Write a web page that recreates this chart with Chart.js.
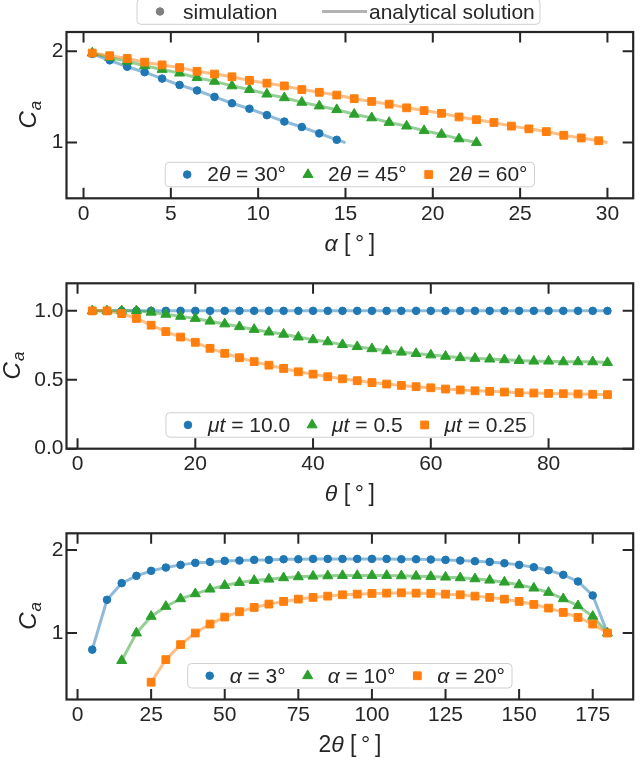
<!DOCTYPE html>
<html>
<head>
<meta charset="utf-8">
<script src="https://cdn.jsdelivr.net/npm/chart.js@4.4.1/dist/chart.umd.min.js"></script>
<style>
  body { margin: 0; background: #fff; }
  #wrap { position: relative; width: 640px; height: 757px; overflow: hidden; }
  canvas { position: absolute; left: 0; }
</style>
</head>
<body>
<div id="wrap">
  <canvas id="c1" width="640" height="260" style="top:0px"></canvas>
  <canvas id="c2" width="640" height="250" style="top:260px"></canvas>
  <canvas id="c3" width="640" height="247" style="top:510px"></canvas>
</div>
<script>
// ---- panel 1 : C_a vs alpha ----
const alpha30 = [0.5,1.5,2.5,3.5,4.5,5.5,6.5,7.5,8.5,9.5,10.5,11.5,12.5,13.5,14.5];
const ca30 = [1.97,1.90,1.83,1.77,1.70,1.63,1.57,1.50,1.43,1.37,1.30,1.23,1.17,1.10,1.03];
const alpha45 = [0.5,1.5,2.5,3.5,4.5,5.5,6.5,7.5,8.5,9.5,10.5,11.5,12.5,13.5,14.5,15.5,16.5,17.5,18.5,19.5,20.5,21.5,22.5];
const ca45 = [1.98,1.93,1.89,1.84,1.80,1.76,1.71,1.67,1.62,1.58,1.53,1.49,1.44,1.40,1.36,1.31,1.27,1.22,1.18,1.13,1.09,1.04,1.00];
const alpha60 = [0.5,1.5,2.5,3.5,4.5,5.5,6.5,7.5,8.5,9.5,10.5,11.5,12.5,13.5,14.5,15.5,16.5,17.5,18.5,19.5,20.5,21.5,22.5,23.5,24.5,25.5,26.5,27.5,28.5,29.5];
const ca60 = [1.98,1.95,1.92,1.88,1.85,1.82,1.78,1.75,1.72,1.68,1.65,1.62,1.58,1.55,1.52,1.48,1.45,1.42,1.38,1.35,1.32,1.28,1.25,1.22,1.18,1.15,1.12,1.08,1.05,1.02];
// analytical line end points (alpha = theta, C_a = 1)
const lineEnd30 = [15, 1.0];
const lineEnd45 = [22.5, 1.0];
const lineEnd60 = [30, 1.0];
const xTicks1 = [0, 5, 10, 15, 20, 25, 30];
const yTicks1 = [1, 2];

// ---- panel 2 : C_a vs theta ----
const theta = [2.5,5,7.5,10,12.5,15,17.5,20,22.5,25,27.5,30,32.5,35,37.5,40,42.5,45,47.5,50,52.5,55,57.5,60,62.5,65,67.5,70,72.5,75,77.5,80,82.5,85,87.5,90];
const caMu10 = [1,1,1,1,1,1,1,1,1,1,1,1,1,1,1,1,1,1,1,1,1,1,1,1,1,1,1,1,1,1,1,1,1,1,1,1];
const caMu05 = [1.0,1.0,1.0,1.0,0.99,0.975,0.96,0.945,0.925,0.905,0.885,0.865,0.846,0.83,0.81,0.79,0.775,0.755,0.74,0.725,0.71,0.70,0.69,0.68,0.67,0.66,0.655,0.65,0.645,0.64,0.635,0.635,0.63,0.63,0.63,0.625];
const caMu025 = [1.0,1.0,0.98,0.945,0.896,0.85,0.81,0.772,0.728,0.692,0.66,0.632,0.606,0.582,0.558,0.541,0.522,0.507,0.493,0.48,0.469,0.459,0.45,0.442,0.433,0.426,0.42,0.416,0.411,0.406,0.404,0.401,0.399,0.397,0.395,0.392];
const xTicks2 = [0, 20, 40, 60, 80];
const yTicks2 = [0, 0.5, 1.0];

// ---- panel 3 : C_a vs 2theta ----
const twoTheta3 = [5,10,15,20,25,30,35,40,45,50,55,60,65,70,75,80,85,90,95,100,105,110,115,120,125,130,135,140,145,150,155,160,165,170,175,180];
const caA3 = [0.8,1.4,1.6,1.688,1.748,1.788,1.82,1.844,1.856,1.868,1.872,1.88,1.88,1.888,1.888,1.892,1.892,1.892,1.892,1.892,1.892,1.888,1.888,1.884,1.88,1.872,1.864,1.856,1.84,1.82,1.792,1.756,1.70,1.62,1.452,1.0];
const twoTheta10 = [15,20,25,30,35,40,45,50,55,60,65,70,75,80,85,90,95,100,105,110,115,120,125,130,135,140,145,150,155,160,165,170,175,180];
const caA10 = [0.668,1.0,1.2,1.32,1.412,1.472,1.528,1.572,1.608,1.632,1.648,1.664,1.676,1.684,1.688,1.692,1.692,1.692,1.692,1.688,1.684,1.68,1.672,1.664,1.652,1.636,1.612,1.58,1.54,1.488,1.412,1.328,1.2,1.0];
const twoTheta20 = [25,30,35,40,45,50,55,60,65,70,75,80,85,90,95,100,105,110,115,120,125,130,135,140,145,150,155,160,165,170,175,180];
const caA20 = [0.408,0.68,0.86,1.0,1.108,1.192,1.256,1.308,1.348,1.38,1.408,1.428,1.444,1.46,1.468,1.476,1.48,1.484,1.48,1.476,1.468,1.46,1.444,1.428,1.408,1.38,1.344,1.30,1.248,1.188,1.108,1.0];
const xTicks3 = [0, 25, 50, 75, 100, 125, 150, 175];
const yTicks3 = [1, 2];

const BLUE = '#1f77b4', ORANGE = '#ff7f0e', GREEN = '#2ca02c';
const BLUE_L = 'rgba(31,119,180,0.5)', ORANGE_L = 'rgba(255,127,14,0.5)', GREEN_L = 'rgba(44,160,44,0.5)';
const INK = '#262626';
const FONT = "'Liberation Sans', Arial, sans-serif";
const TICK = 10.5;
const RAD = { circle: 3.8, triangle: 5.8, rect: 5.5 };

function pts(xs, ys) {
    return xs.map((x, i) => ({ x: x, y: ys[i] }));
}

function simSet(xs, ys, color, shape, order) {
    return {
        data: pts(xs, ys), showLine: false, order: order,
        pointStyle: shape, pointRadius: RAD[shape],
        pointBackgroundColor: color, pointBorderColor: color, pointBorderWidth: 1
    };
}

function lineSet(xs, ys, color, order) {
    return {
        data: pts(xs, ys), showLine: true, order: order,
        pointRadius: 0, borderColor: color, borderWidth: 3, tension: 0
    };
}

// draw a list of [text, italic] pieces centred on cx
function drawRich(ctx, parts, cx, cy, size) {
    let x = cx - richWidth(ctx, parts, size) / 2;
    ctx.textAlign = 'left';
    ctx.textBaseline = 'middle';
    parts.forEach(p => {
        ctx.font = (p[1] ? 'italic ' : '') + size + 'px ' + FONT;
        ctx.fillText(p[0], x, cy);
        x += ctx.measureText(p[0]).width;
    });
}

function richWidth(ctx, parts, size) {
    let w = 0;
    parts.forEach(p => {
        ctx.font = (p[1] ? 'italic ' : '') + size + 'px ' + FONT;
        w += ctx.measureText(p[0]).width;
    });
    return w;
}

// same shapes as the chart.js point styles
function drawMarker(ctx, shape, x, y, color) {
    const r = RAD[shape];
    ctx.fillStyle = color;
    ctx.strokeStyle = color;
    ctx.lineWidth = 1;
    ctx.beginPath();
    if (shape === 'circle') {
        ctx.arc(x, y, r, 0, Math.PI * 2);
    } else if (shape === 'rect') {
        const s = r * Math.SQRT1_2;
        ctx.rect(x - s, y - s, 2 * s, 2 * s);
    } else {
        let a = 0;
        ctx.moveTo(x + Math.sin(a) * r, y - Math.cos(a) * r);
        a += Math.PI * 2 / 3;
        ctx.lineTo(x + Math.sin(a) * r, y - Math.cos(a) * r);
        a += Math.PI * 2 / 3;
        ctx.lineTo(x + Math.sin(a) * r, y - Math.cos(a) * r);
        ctx.closePath();
    }
    ctx.fill();
    ctx.stroke();
}

function roundBox(ctx, x, y, w, h, r) {
    ctx.beginPath();
    ctx.roundRect(x, y, w, h, r);
    ctx.fillStyle = 'rgba(255,255,255,0.85)';
    ctx.fill();
    ctx.strokeStyle = '#d0d0d0';
    ctx.lineWidth = 1;
    ctx.stroke();
}

// frame, inward ticks, axis titles and the legend inside the axes
const decor = {
    id: 'decor',
    afterDraw(chart, args, o) {
        const ctx = chart.ctx, a = chart.chartArea;
        const xs = chart.scales.x, ys = chart.scales.y;
        ctx.save();

        ctx.strokeStyle = INK;
        ctx.lineWidth = 2;
        ctx.beginPath();
        xs.ticks.forEach(t => {
            const p = xs.getPixelForValue(t.value);
            ctx.moveTo(p, a.bottom); ctx.lineTo(p, a.bottom - TICK);
            ctx.moveTo(p, a.top); ctx.lineTo(p, a.top + TICK);
        });
        ys.ticks.forEach(t => {
            const p = ys.getPixelForValue(t.value);
            ctx.moveTo(a.left, p); ctx.lineTo(a.left + TICK, p);
            ctx.moveTo(a.right, p); ctx.lineTo(a.right - TICK, p);
        });
        ctx.stroke();
        ctx.lineWidth = 2.2;
        ctx.strokeRect(a.left, a.top, a.right - a.left, a.bottom - a.top);

        // x title
        ctx.fillStyle = INK;
        drawRich(ctx, o.xTitle, (a.left + a.right) / 2, a.bottom + 46, 23);

        // y title C_a, rotated
        ctx.save();
        ctx.translate(o.yTitleX, (a.top + a.bottom) / 2);
        ctx.rotate(-Math.PI / 2);
        ctx.font = 'italic 24px ' + FONT;
        const wc = ctx.measureText('C').width;
        ctx.font = 'italic 17px ' + FONT;
        const wa = ctx.measureText('a').width;
        ctx.textBaseline = 'alphabetic';
        ctx.textAlign = 'left';
        ctx.fillStyle = INK;
        ctx.font = 'italic 24px ' + FONT;
        ctx.fillText('C', -(wc + wa) / 2, 0);
        ctx.font = 'italic 17px ' + FONT;
        ctx.fillText('a', -(wc + wa) / 2 + wc + 1, 4.5);
        ctx.restore();

        // legend in the axes, lower centre
        const items = o.legend;
        const lp = 22, mt = 20, tm = 22, rp = 7;
        let w = lp + rp;
        items.forEach((it, i) => {
            w += mt + richWidth(ctx, it.label, 21) + (i < items.length - 1 ? tm : 0);
        });
        const bx = (a.left + a.right) / 2 - w / 2;
        const bh = 24.5;
        const by = a.bottom - 11.5 - bh;
        roundBox(ctx, bx, by, w, bh, 4);
        let x = bx + lp;
        const cy = by + bh / 2;
        items.forEach(it => {
            drawMarker(ctx, it.shape, x, cy, it.color);
            const tw = richWidth(ctx, it.label, 21);
            ctx.fillStyle = INK;
            drawRich(ctx, it.label, x + mt + tw / 2, cy + 1, 21);
            x += mt + tw + tm;
        });

        // figure legend on top of the first panel
        if (o.topLegend) {
            roundBox(ctx, 137, -1, 403, 25.3, 4);
            drawMarker(ctx, 'circle', 160, 11.5, '#7f7f7f');
            ctx.fillStyle = INK;
            ctx.font = '21px ' + FONT;
            ctx.textAlign = 'left';
            ctx.textBaseline = 'alphabetic';
            ctx.fillText('simulation', 183, 18.5);
            ctx.strokeStyle = 'rgba(127,127,127,0.6)';
            ctx.lineWidth = 3;
            ctx.beginPath();
            ctx.moveTo(322, 11.5); ctx.lineTo(367, 11.5);
            ctx.stroke();
            ctx.fillText('analytical solution', 369, 18.5);
        }
        ctx.restore();
    }
};

function axis(min, max, tickVals, fmt, fitFn) {
    return {
        type: 'linear', min: min, max: max, bounds: 'data',
        grid: { display: false, drawTicks: false },
        border: { display: false },
        ticks: { font: { family: FONT, size: 21 }, color: INK, padding: 3, maxRotation: 0, autoSkip: false, callback: fmt },
        afterBuildTicks: s => { s.ticks = tickVals.map(v => ({ value: v })); },
        afterFit: fitFn
    };
}

function makeChart(id, cfg) {
    return new Chart(document.getElementById(id), {
        type: 'scatter',
        data: { datasets: cfg.datasets },
        options: {
            responsive: false,
            animation: false,
            layout: { padding: { top: cfg.padTop, right: 1, left: 0, bottom: 0 } },
            plugins: {
                legend: { display: false },
                tooltip: { enabled: false },
                decor: cfg.decor
            },
            scales: {
                x: axis(cfg.xMin, cfg.xMax, cfg.xTicks, v => String(v), s => { s.height = cfg.xAxisH; }),
                y: axis(cfg.yMin, cfg.yMax, cfg.yTicks, cfg.yFmt, s => { s.width = 66.5; })
            }
        },
        plugins: [decor]
    });
}

makeChart('c1', {
    padTop: 32, xAxisH: 61.7,
    xMin: -0.975, xMax: 31.475, xTicks: xTicks1,
    yMin: 0.39, yMax: 2.21, yTicks: yTicks1, yFmt: v => String(v),
    datasets: [
        simSet(alpha60, ca60, ORANGE, 'rect', 0),
        simSet(alpha45, ca45, GREEN, 'triangle', 1),
        simSet(alpha30, ca30, BLUE, 'circle', 2),
        lineSet(alpha60.concat([lineEnd60[0]]), ca60.concat([lineEnd60[1]]), ORANGE_L, 10),
        lineSet(alpha45.concat([lineEnd45[0]]), ca45.concat([lineEnd45[1]]), GREEN_L, 11),
        lineSet(alpha30.concat([lineEnd30[0]]), ca30.concat([lineEnd30[1]]), BLUE_L, 12)
    ],
    decor: {
        xTitle: [['α', true], [' [\u2009°\u2009]', false]],
        yTitleX: 36,
        topLegend: true,
        legend: [
            { shape: 'circle', color: BLUE, label: [['2', false], ['θ', true], [' = 30°', false]] },
            { shape: 'triangle', color: GREEN, label: [['2', false], ['θ', true], [' = 45°', false]] },
            { shape: 'rect', color: ORANGE, label: [['2', false], ['θ', true], [' = 60°', false]] }
        ]
    }
});

makeChart('c2', {
    padTop: 23.3, xAxisH: 61.3,
    xMin: -1.875, xMax: 94.375, xTicks: xTicks2,
    yMin: 0, yMax: 1.2, yTicks: yTicks2, yFmt: v => v.toFixed(1),
    datasets: [
        simSet(theta, caMu025, ORANGE, 'rect', 0),
        simSet(theta, caMu05, GREEN, 'triangle', 1),
        simSet(theta, caMu10, BLUE, 'circle', 2),
        lineSet(theta, caMu025, ORANGE_L, 10),
        lineSet(theta, caMu05, GREEN_L, 11),
        lineSet(theta, caMu10, BLUE_L, 12)
    ],
    decor: {
        xTitle: [['θ', true], [' [\u2009°\u2009]', false]],
        yTitleX: 19.5,
        legend: [
            { shape: 'circle', color: BLUE, label: [['μt', true], [' = 10.0', false]] },
            { shape: 'triangle', color: GREEN, label: [['μt', true], [' = 0.5', false]] },
            { shape: 'rect', color: ORANGE, label: [['μt', true], [' = 0.25', false]] }
        ]
    }
});

makeChart('c3', {
    padTop: 23.3, xAxisH: 57.5,
    xMin: -3.75, xMax: 188.75, xTicks: xTicks3,
    yMin: 0.2, yMax: 2.2, yTicks: yTicks3, yFmt: v => String(v),
    datasets: [
        simSet(twoTheta20, caA20, ORANGE, 'rect', 0),
        simSet(twoTheta10, caA10, GREEN, 'triangle', 1),
        simSet(twoTheta3, caA3, BLUE, 'circle', 2),
        lineSet(twoTheta20, caA20, ORANGE_L, 10),
        lineSet(twoTheta10, caA10, GREEN_L, 11),
        lineSet(twoTheta3, caA3, BLUE_L, 12)
    ],
    decor: {
        xTitle: [['2', false], ['θ', true], [' [\u2009°\u2009]', false]],
        yTitleX: 36,
        legend: [
            { shape: 'circle', color: BLUE, label: [['α', true], [' = 3°', false]] },
            { shape: 'triangle', color: GREEN, label: [['α', true], [' = 10°', false]] },
            { shape: 'rect', color: ORANGE, label: [['α', true], [' = 20°', false]] }
        ]
    }
});
</script>
</body>
</html>
